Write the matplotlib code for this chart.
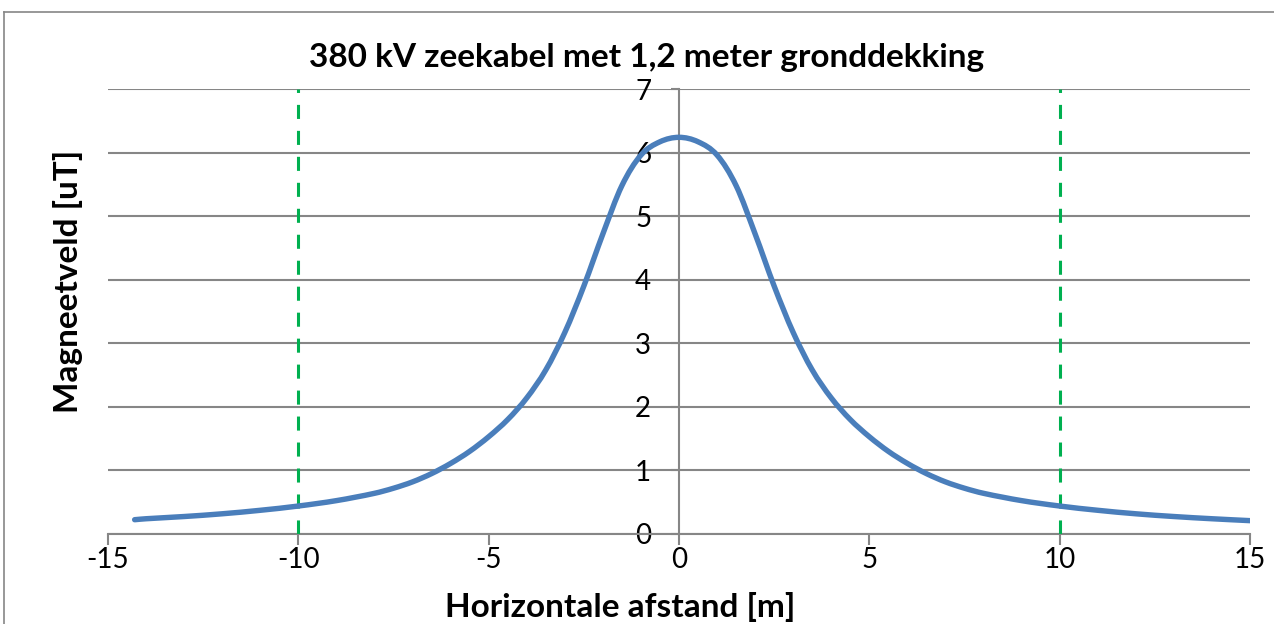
import numpy as np
import matplotlib
matplotlib.use('Agg')
import matplotlib.pyplot as plt
from matplotlib.path import Path
from matplotlib.patches import PathPatch
from matplotlib.lines import Line2D

plt.rcParams['font.family'] = ['Lato', 'DejaVu Sans']
plt.rcParams['axes.unicode_minus'] = False

# horizontale afstand [m] en magneetveld [uT]
afstand = [-14.3, -14, -13, -12, -11, -10, -9, -8, -7.5, -7, -6.5, -6, -5.5, -5, -4.5, -4, -3.5,
           -3, -2.5, -2, -1.5, -1, -0.5, 0, 0.5, 1, 1.5, 2, 2.5, 3, 3.5, 4, 4.5,
           5, 5.5, 6, 6.5, 7, 7.5, 8, 9, 10, 11, 12, 13, 14, 15]
veld = [0.225, 0.24, 0.275, 0.318, 0.373, 0.44, 0.525, 0.64, 0.72, 0.82, 0.95, 1.11, 1.30, 1.53, 1.80, 2.14, 2.58,
        3.17, 3.90, 4.72, 5.48, 5.96, 6.17, 6.24, 6.17, 5.96, 5.48, 4.72, 3.90, 3.17, 2.58, 2.14, 1.80,
        1.53, 1.30, 1.11, 0.95, 0.82, 0.72, 0.64, 0.525, 0.44, 0.373, 0.318, 0.275, 0.24, 0.21]
grenzen = [-10, 10]
x_ticks = [-15, -10, -5, 0, 5, 10, 15]
y_ticks = [0, 1, 2, 3, 4, 5, 6, 7]

GRIJS = '#868686'


def smooth_path(x, y):
    # vloeiende lijn door de meetpunten (kubische bezier per stuk)
    x = np.asarray(x, float)
    y = np.asarray(y, float)
    n = len(x)
    m = np.empty(n)
    m[0] = (y[1] - y[0]) / (x[1] - x[0])
    m[-1] = (y[-1] - y[-2]) / (x[-1] - x[-2])
    m[1:-1] = (y[2:] - y[:-2]) / (x[2:] - x[:-2])
    verts = [(x[0], y[0])]
    codes = [Path.MOVETO]
    for i in range(n - 1):
        h = (x[i + 1] - x[i]) / 3
        verts += [(x[i] + h, y[i] + m[i] * h),
                  (x[i + 1] - h, y[i + 1] - m[i + 1] * h),
                  (x[i + 1], y[i + 1])]
        codes += [Path.CURVE4] * 3
    return Path(verts, codes)


fig = plt.figure(figsize=(12.74, 6.24), dpi=100)
ax = fig.add_axes([108 / 1274, 1 - 534 / 624, (1250 - 108) / 1274, (534 - 89) / 624])
ax.set_xlim(x_ticks[0], x_ticks[-1])
ax.set_ylim(y_ticks[0], y_ticks[-1])
ax.set_xticks(x_ticks)
ax.set_yticks(y_ticks)

ax.spines['left'].set_position(('data', 0))
ax.spines['right'].set_visible(False)
ax.spines['top'].set_visible(False)
for s in ['left', 'bottom']:
    ax.spines[s].set_color(GRIJS)
    ax.spines[s].set_linewidth(1.5)
ax.yaxis.grid(True, color=GRIJS, lw=1.5)
ax.set_axisbelow(True)
ax.tick_params(axis='x', colors=GRIJS, labelcolor='black', length=8, width=1.5,
               labelsize=20, pad=1)
ax.tick_params(axis='y', colors=GRIJS, labelcolor='black', length=6, width=1.5,
               labelsize=20, pad=14)
for lbl in ax.get_yticklabels():
    lbl.set_zorder(5)

for g in grenzen:
    ax.axvline(g, color='#00B050', lw=2.2, dashes=(4.6, 3.9), zorder=3)

ax.add_patch(PathPatch(smooth_path(afstand, veld), facecolor='none',
                       edgecolor='#4A7EBB', lw=3.9, capstyle='round', zorder=4))

fig.text(647 / 1274, 1 - 58 / 624, '380 kV zeekabel met 1,2 meter gronddekking',
         ha='center', va='center', fontsize=24, fontweight='bold')
fig.text(68 / 1274, 1 - 281 / 624, 'Magneetveld [uT]', rotation=90,
         ha='center', va='center', fontsize=24, fontweight='bold')
fig.text(620 / 1274, 1 - 607 / 624, 'Horizontale afstand [m]',
         ha='center', va='center', fontsize=24, fontweight='bold')

# rand van de grafiek
fig.add_artist(Line2D([4 / 1274, 1], [1 - 12 / 624] * 2, color=GRIJS, lw=1.2))
fig.add_artist(Line2D([4 / 1274] * 2, [0, 1 - 12 / 624], color=GRIJS, lw=1.2))

fig.savefig('out.png', dpi=100)
